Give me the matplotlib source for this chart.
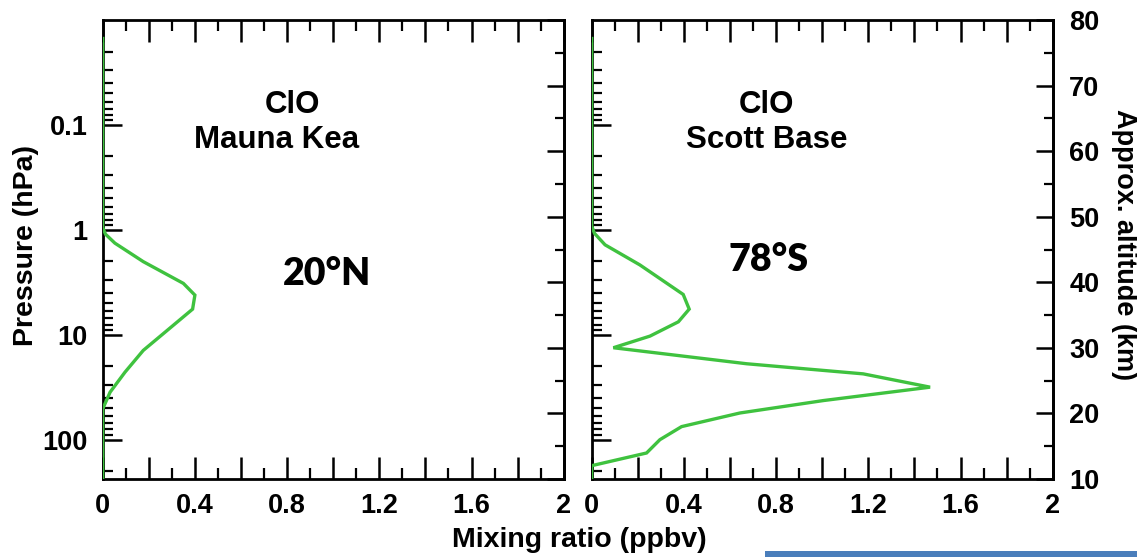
import numpy as np
import matplotlib
matplotlib.use("Agg")
import matplotlib.pyplot as plt
from matplotlib.ticker import FixedLocator, MultipleLocator, FuncFormatter, NullFormatter
from matplotlib.patches import Rectangle

# ---------------- data ----------------
mk_ratio = [0.0, 0.0, 0.012, 0.053, 0.176, 0.350, 0.400, 0.390, 0.263, 0.176, 0.097, 0.032, 0.0, 0.0]
mk_pressure = [0.015, 0.95, 1.10, 1.34, 2.01, 3.24, 4.19, 5.70, 9.76, 14.1, 22.7, 35.3, 51.0, 240.0]

sb_ratio = [0.0, 0.0, 0.012, 0.058, 0.209, 0.397, 0.423, 0.376, 0.253, 0.094, 0.672, 1.178,
            1.468, 1.005, 0.643, 0.390, 0.296, 0.238, 0.0, 0.0]
sb_pressure = [0.015, 0.92, 1.08, 1.39, 2.16, 4.13, 5.70, 7.53, 10.3, 13.3, 18.9, 23.6,
               31.6, 42.4, 55.7, 75.1, 100.0, 134.0, 177.0, 240.0]

pressure_ticks = [0.1, 1, 10, 100]
pressure_labels = ["0.1", "1", "10", "100"]
altitude_ticks = [10, 20, 30, 40, 50, 60, 70, 80]
ratio_label_ticks = [0, 0.4, 0.8, 1.2, 1.6, 2]

titles = [("ClO", "Mauna Kea", "20°N"), ("ClO", "Scott Base", "78°S")]

# ---------------- style ----------------
plt.rcParams['font.family'] = ['Liberation Sans', 'DejaVu Sans']
plt.rcParams['font.weight'] = 'bold'
GREEN = "#3fc23f"
W, H = 1137, 557
P_TOP = 0.01
P_BOT = 1000 / 10 ** (10 / 16)


def p2z(p):
    p = np.asarray(p, dtype=float)
    return 16 * np.log10(1000 / np.maximum(p, 1e-12))


def z2p(z):
    z = np.asarray(z, dtype=float)
    return 1000 / 10 ** (z / 16)


def xfmt(v, pos):
    r = round(v, 3)
    if any(abs(r - t) < 1e-6 for t in ratio_label_ticks):
        return f"{r:g}"
    return ""


fig = plt.figure(figsize=(W / 100, H / 100), dpi=100)
lefts = [102.7, 591.7]
axes = []
for i, (ratio, pres) in enumerate([(mk_ratio, mk_pressure), (sb_ratio, sb_pressure)]):
    ax = fig.add_axes([lefts[i] / W, 1 - 479 / H, 461 / W, 459 / H])
    ax.plot(ratio, pres, color=GREEN, lw=2.4, zorder=3, solid_joinstyle='miter')
    ax.set_yscale('log')
    ax.set_ylim(P_BOT, P_TOP)
    ax.set_xlim(0, 2)
    ax.yaxis.set_major_locator(FixedLocator(pressure_ticks))
    ax.yaxis.set_minor_locator(FixedLocator(
        [m * 10.0 ** e for e in range(-2, 3) for m in range(2, 10)]))
    ax.yaxis.set_minor_formatter(NullFormatter())
    if i == 0:
        ax.yaxis.set_major_formatter(FuncFormatter(
            lambda v, pos: pressure_labels[pressure_ticks.index(v)] if v in pressure_ticks else ""))
    else:
        ax.yaxis.set_major_formatter(NullFormatter())
    ax.xaxis.set_major_locator(MultipleLocator(0.2))
    ax.xaxis.set_minor_locator(MultipleLocator(0.1))
    ax.xaxis.set_major_formatter(FuncFormatter(xfmt))
    ax.tick_params(axis='y', which='major', direction='in', length=14, width=1.8,
                   left=True, right=False, labelsize=19.5, pad=11)
    ax.tick_params(axis='y', which='minor', direction='in', length=7.5, width=1.6,
                   left=True, right=False)
    ax.tick_params(axis='x', which='major', direction='in', length=16, width=1.8,
                   top=True, bottom=True, labelsize=19.5, pad=10)
    ax.tick_params(axis='x', which='minor', direction='in', length=8, width=1.6,
                   top=True, bottom=True)
    for sp in ax.spines.values():
        sp.set_linewidth(2.0)

    sec = ax.secondary_yaxis('right', functions=(p2z, z2p))
    sec.yaxis.set_major_locator(FixedLocator(altitude_ticks))
    sec.yaxis.set_minor_locator(FixedLocator([15, 25, 35, 45, 55, 65, 75]))
    sec.yaxis.set_major_formatter(FuncFormatter(lambda v, pos: f"{v:.0f}"))
    sec.yaxis.set_minor_formatter(NullFormatter())
    sec.tick_params(which='major', direction='in', length=12, width=1.8,
                    labelsize=19.5, pad=12)
    sec.tick_params(which='minor', direction='in', length=6.5, width=1.6)
    sec.spines['right'].set_linewidth(2.0)
    if i == 0:
        sec.tick_params(labelright=False)
    axes.append(ax)

# titles and latitude labels (pixel positions converted to figure fraction)
title1_x = [292, 767]
title2_x = [277, 767]
lat_x = [327, 769]
lat_base = [285, 271]
for i, (t1, t2, lat) in enumerate(titles):
    fig.text(title1_x[i] / W, 1 - 113 / H, t1, ha='center', va='baseline',
             fontsize=22.5, fontweight='bold')
    fig.text(title2_x[i] / W, 1 - 148 / H, t2, ha='center', va='baseline',
             fontsize=22.5, fontweight='bold')
    fig.text(lat_x[i] / W, 1 - lat_base[i] / H, lat, ha='center', va='baseline',
             fontsize=27, fontweight='heavy', family=['Lato', 'DejaVu Sans'])

fig.text(26 / W, 1 - 245 / H, "Pressure (hPa)", rotation=90, ha='center', va='center',
         fontsize=20.5, fontweight='bold')
fig.text(1124 / W, 1 - 245 / H, "Approx. altitude (km)", rotation=-90, ha='center',
         va='center', fontsize=19.5, fontweight='bold')
fig.text(579 / W, 1 - 540 / H, "Mixing ratio (ppbv)", ha='center', va='center',
         fontsize=20.5, fontweight='bold')

fig.add_artist(Rectangle((765 / W, 0), (W - 765) / W, 6 / H, transform=fig.transFigure,
                         color="#4a7ebb", lw=0))

fig.savefig("out.png", dpi=100)
